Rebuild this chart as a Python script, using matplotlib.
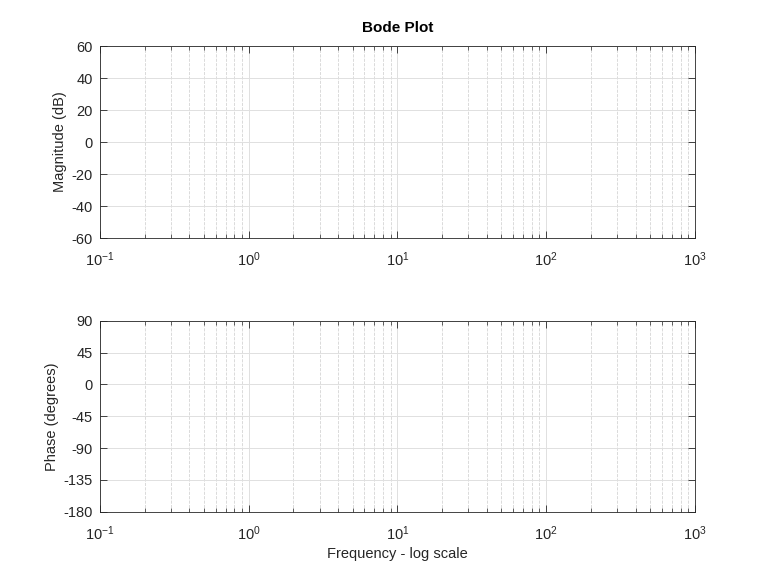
import numpy as np
import matplotlib.pyplot as plt
from matplotlib.ticker import LogLocator, FixedLocator, FuncFormatter, NullFormatter

plt.rcParams['font.family'] = ['Liberation Sans', 'DejaVu Sans']
plt.rcParams['mathtext.fontset'] = 'custom'
plt.rcParams['mathtext.rm'] = 'Liberation Sans'
plt.rcParams['mathtext.it'] = 'Liberation Sans'
plt.rcParams['axes.unicode_minus'] = False

freq_range = [0.1, 1000]
mag_ticks = [-60, -40, -20, 0, 20, 40, 60]
phase_ticks = [-180, -135, -90, -45, 0, 45, 90]

fig = plt.figure(figsize=(7.68, 5.75), dpi=100)
ax1 = fig.add_axes([0.130, 0.586, 0.775, 0.334])
ax2 = fig.add_axes([0.130, 0.110, 0.775, 0.332])


def dec_fmt(v, pos):
    return r'$\mathregular{10^{%d}}$' % int(round(np.log10(v)))


for ax, ticks in [(ax1, mag_ticks), (ax2, phase_ticks)]:
    ax.set_xscale('log')
    ax.set_xlim(freq_range)
    ax.set_ylim(ticks[0], ticks[-1])
    ax.yaxis.set_major_locator(FixedLocator(ticks))
    ax.xaxis.set_major_locator(LogLocator(base=10, numticks=10))
    ax.xaxis.set_minor_locator(LogLocator(base=10, subs=np.arange(2, 10), numticks=10))
    ax.xaxis.set_major_formatter(FuncFormatter(dec_fmt))
    ax.xaxis.set_minor_formatter(NullFormatter())
    ax.grid(True, which='major', color='#e0e0e0', linestyle='-', linewidth=0.7)
    ax.grid(True, which='minor', axis='x', color='#d4d4d4', linestyle='--', linewidth=0.6)
    ax.tick_params(which='both', direction='in', top=True, right=True,
                   labelsize=10.5, colors='#262626')
    ax.tick_params(axis='y', pad=5)
    ax.tick_params(axis='x', pad=9)
    ax.tick_params(which='major', length=5, width=0.6)
    ax.tick_params(which='minor', length=3, width=0.5)
    for s in ax.spines.values():
        s.set_color('#262626')
        s.set_linewidth(0.6)
    ax.set_axisbelow(True)

ax1.set_ylabel('Magnitude (dB)', fontsize=10.5, color='#262626', labelpad=3)
ax1.set_title('Bode Plot', fontsize=11, fontweight='bold', pad=10)
ax2.set_ylabel('Phase (degrees)', fontsize=10.5, color='#262626', labelpad=3)
ax2.set_xlabel('Frequency - log scale', fontsize=10.5, color='#262626', labelpad=3)

fig.savefig('out.png', dpi=100, facecolor='white')
